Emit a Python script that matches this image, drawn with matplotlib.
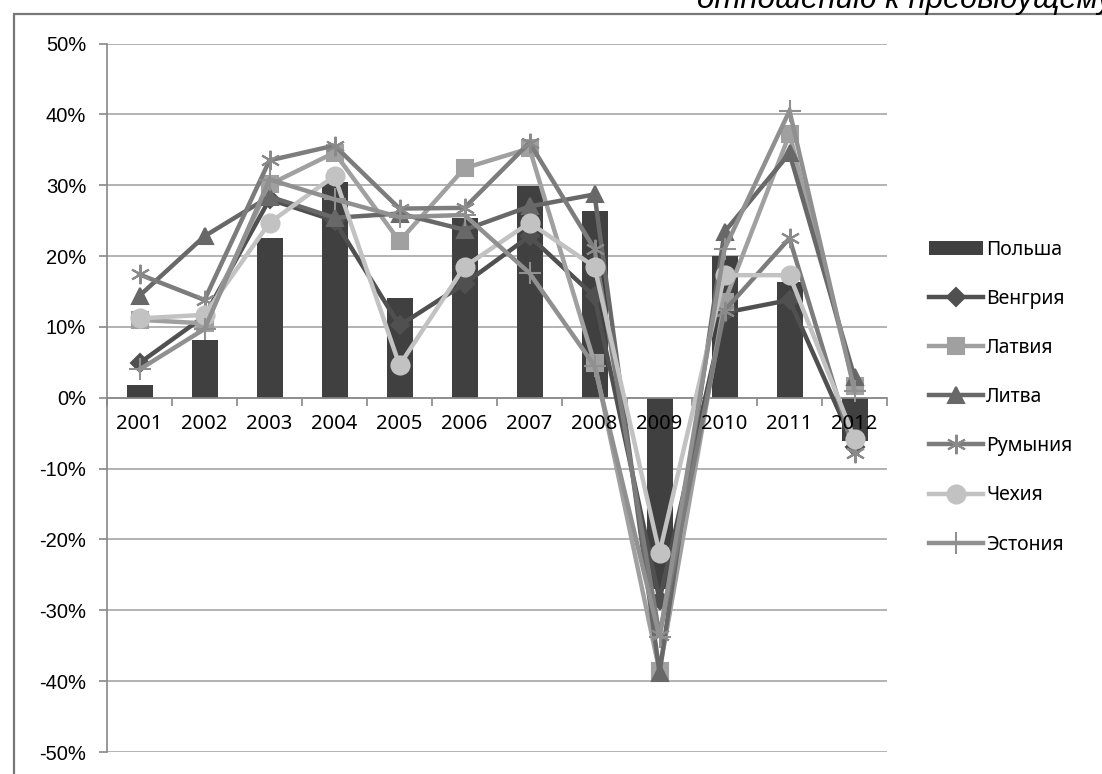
import matplotlib.pyplot as plt
import matplotlib.patches as mpatches
import numpy as np

years = ['2001', '2002', '2003', '2004', '2005', '2006', '2007', '2008', '2009', '2010', '2011', '2012']

poland = [1.8, 8.2, 22.5, 30.5, 14.1, 25.4, 29.9, 26.3, -27.0, 20.0, 16.3, -6.1]
hungary = [4.9, 11.5, 28.0, 25.0, 10.2, 16.1, 22.8, 14.3, -28.5, 12.0, 13.8, -6.9]
latvia = [11.0, 10.5, 30.1, 34.6, 22.1, 32.4, 35.2, 4.9, -38.6, 13.5, 37.2, 1.6]
lithuania = [14.4, 22.8, 28.4, 25.4, 26.0, 23.7, 27.0, 28.7, -38.8, 23.4, 34.5, 2.9]
romania = [17.4, 13.8, 33.5, 35.6, 26.7, 26.8, 36.0, 21.0, -33.5, 12.3, 22.5, -7.8]
czech = [11.2, 11.7, 24.7, 31.3, 4.6, 18.5, 24.7, 18.5, -21.9, 17.3, 17.3, -5.8]
estonia = [4.0, 9.7, 30.8, 28.0, 25.5, 25.8, 17.6, 4.5, -33.8, 21.0, 40.5, 1.0]

fig = plt.figure(figsize=(11.02, 7.74), dpi=100)
ax = fig.add_axes([107/1102, 1-752/774, 780/1102, 708.5/774])

x = np.arange(len(years))
ax.bar(x, poland, width=0.4, color='#404040', zorder=2, label='Польша')

lines = [
    (hungary, 'Венгрия', '#505050', 'D', 9, '#505050'),
    (latvia, 'Латвия', '#a0a0a0', 's', 11, '#a0a0a0'),
    (lithuania, 'Литва', '#686868', '^', 12, '#686868'),
    (romania, 'Румыния', '#7c7c7c', (6, 2, 0), 14, '#8a8a8a'),
    (czech, 'Чехия', '#c2c2c2', 'o', 13, '#c2c2c2'),
    (estonia, 'Эстония', '#909090', '+', 16, '#909090'),
]
for vals, name, col, mk, ms, mcol in lines:
    ax.plot(x, vals, color=col, lw=3.2, marker=mk, ms=ms, mfc=mcol, mec=mcol,
            mew=1.5, label=name, zorder=3, solid_joinstyle='miter')

ax.set_xlim(-0.5, len(years) - 0.5)
ax.set_ylim(-50, 50)
ax.set_yticks(np.arange(-50, 51, 10))
ax.set_yticklabels([f'{v}%' for v in range(-50, 51, 10)], family='Liberation Sans', fontsize=14.5)
ax.yaxis.grid(True, color='#a6a6a6', lw=1.2, zorder=0)
ax.tick_params(axis='y', length=6, color='#888888', width=1.2, pad=9)

ax.spines['top'].set_visible(False)
ax.spines['right'].set_visible(False)
ax.spines['bottom'].set_position(('data', 0))
ax.spines['bottom'].set_color('#888888')
ax.spines['left'].set_color('#888888')
ax.spines['left'].set_linewidth(1.2)
ax.spines['bottom'].set_linewidth(1.2)
ax.set_xticks(np.arange(-0.5, len(years), 1))
ax.set_xticklabels([])
ax.tick_params(axis='x', length=6, color='#888888', width=1.2)
for i, yr in enumerate(years):
    ax.text(i, -2.3, yr, ha='center', va='top', fontsize=14.5, family='Noto Sans', zorder=5)

handles, labels = ax.get_legend_handles_labels()
order = [labels.index('Польша')] + [i for i, l in enumerate(labels) if l != 'Польша']
fig.legend([handles[i] for i in order], [labels[i] for i in order],
           loc='center left', bbox_to_anchor=(0.836, 0.487), frameon=False,
           prop={'family': 'Noto Sans', 'size': 14}, labelspacing=1.5,
           handlelength=2.8, handletextpad=0.15, borderaxespad=0)

fig.patches.append(mpatches.Rectangle((14/1102, -0.1), 1.2, 1 - 14/774 + 0.1,
                                      transform=fig.transFigure, fill=False,
                                      edgecolor='#777777', lw=1.6))
fig.text(697/1102, 1 - 8/774, 'отношению к предыдущему году', style='italic',
         family='Liberation Sans', fontsize=22.5, va='baseline', ha='left')

fig.savefig('out.png', dpi=100)
